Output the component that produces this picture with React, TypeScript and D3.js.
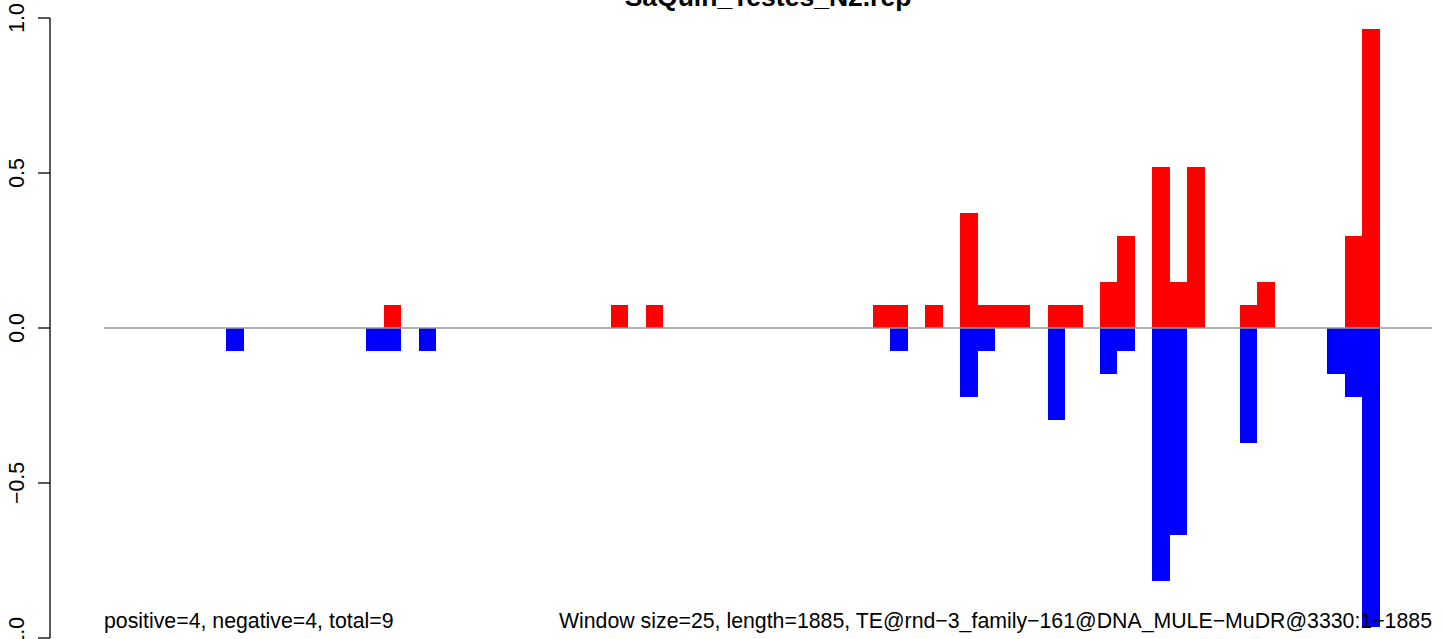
import React from "react";
import * as d3 from "d3";

const title = "SaQuin_Testes_N2.rep";
const windowSize = 25;
const nWindows = 76;

// window start positions (bp) and values
const posStarts = [400, 725, 775, 1100, 1125, 1175, 1225, 1250, 1275, 1300, 1350, 1375, 1425, 1450, 1500, 1525, 1550, 1625, 1650, 1775, 1800];
const posValues = [0.074, 0.074, 0.074, 0.074, 0.074, 0.074, 0.37, 0.074, 0.074, 0.074, 0.074, 0.074, 0.148, 0.296, 0.519, 0.148, 0.519, 0.074, 0.148, 0.296, 0.963];

const negStarts = [175, 375, 400, 450, 1125, 1225, 1250, 1350, 1425, 1450, 1500, 1525, 1625, 1750, 1775, 1800];
const negValues = [-0.074, -0.074, -0.074, -0.074, -0.074, -0.222, -0.074, -0.296, -0.148, -0.074, -0.815, -0.667, -0.37, -0.148, -0.222, -0.963];

const yTicks = [-1, -0.5, 0, 0.5, 1];
const leftNote = "positive=4, negative=4, total=9";
const rightNote = "Window size=25, length=1885, TE@rnd\u22123_family\u2212161@DNA_MULE\u2212MuDR@3330:1\u22121885";

const W = 1444;
const H = 639;
const FONT = "'Liberation Sans', Arial, Helvetica, sans-serif";

export default function App() {
  const x = d3.scaleLinear().domain([0, nWindows * windowSize]).range([104, 1432]);
  const y = d3.scaleLinear().domain([-1, 1]).range([638, 18]);
  const fmt = (v: number) => d3.format(".1f")(v).replace("-", "\u2212");
  const bw = x(windowSize) - x(0);

  return (
    <svg
      width={W}
      height={H}
      style={{ position: "absolute", left: 0, top: 0, background: "#fff" }}
      fontFamily={FONT}
    >
      <rect x={0} y={0} width={W} height={H} fill="#fff" />
      <text x={(x(0) + x(nWindows * windowSize)) / 2} y={6} textAnchor="middle" fontWeight="bold" fontSize={26.5} fill="#000">
        {title}
      </text>
      {posStarts.map((s, i) => (
        <rect key={"p" + i} x={x(s)} y={y(posValues[i])} width={bw} height={y(0) - y(posValues[i])} fill="#ff0000" shapeRendering="crispEdges" />
      ))}
      {negStarts.map((s, i) => (
        <rect key={"n" + i} x={x(s)} y={y(0)} width={bw} height={y(negValues[i]) - y(0)} fill="#0000ff" shapeRendering="crispEdges" />
      ))}
      <line x1={x(0)} x2={x(nWindows * windowSize)} y1={y(0)} y2={y(0)} stroke="#999999" strokeWidth={1.5} />
      <line x1={50} x2={50} y1={y(1)} y2={y(-1)} stroke="#000" strokeWidth={1.3} />
      {yTicks.map((t) => (
        <g key={t}>
          <line x1={38} x2={50} y1={y(t)} y2={y(t)} stroke="#000" strokeWidth={1.3} />
          <text transform={`translate(24,${y(t)}) rotate(-90)`} textAnchor="middle" fontSize={21.3} fill="#000">
            {fmt(t)}
          </text>
        </g>
      ))}
      <text x={x(0)} y={628} fontSize={21.3} fill="#000">{leftNote}</text>
      <text x={x(nWindows * windowSize)} y={628} textAnchor="end" fontSize={21.3} fill="#000" wordSpacing={0}>{rightNote}</text>
    </svg>
  );
}
